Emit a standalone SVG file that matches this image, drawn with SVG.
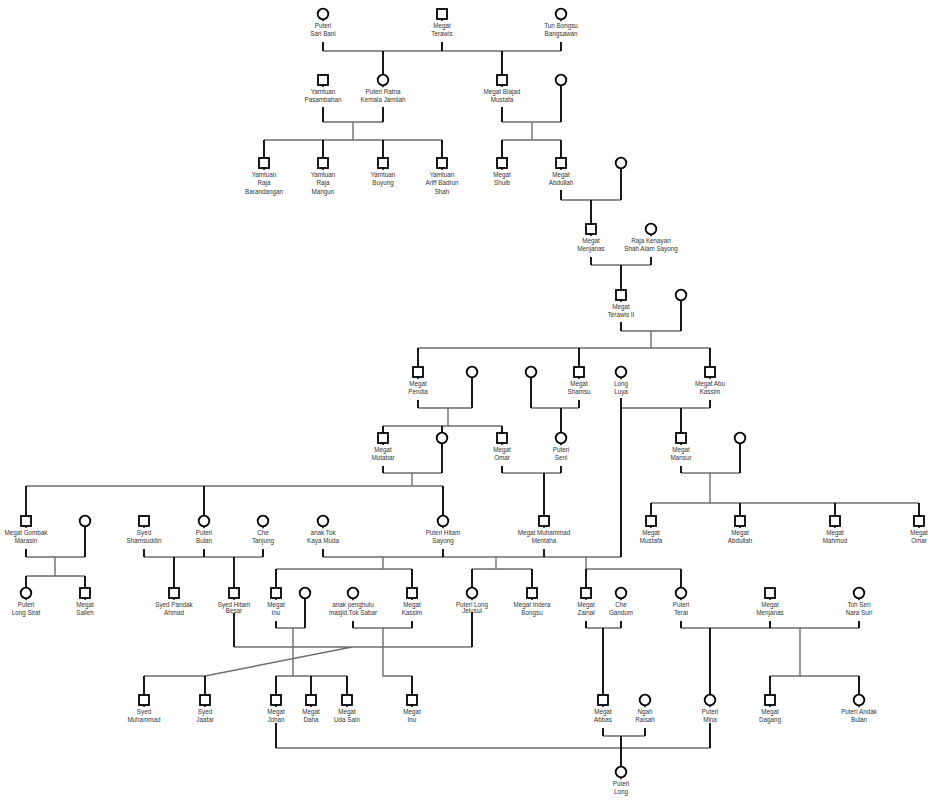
<svg xmlns="http://www.w3.org/2000/svg" width="935" height="800" viewBox="0 0 935 800">
<style>
.node rect,.node circle{fill:#fff;stroke:#000;stroke-width:1.8}
.node path{stroke:#000;stroke-width:1.5;fill:none}
.node text{font-family:"Liberation Sans",Arial,sans-serif;font-size:6.3px;fill:#333;text-anchor:middle}
.b{stroke:#000;stroke-width:1.8;fill:none}
.g{stroke:#6e6e6e;stroke-width:1.4;fill:none}
</style>
<rect width="935" height="800" fill="#fff"/>
<g id="connectors">
<path class="g" d="M323,51H561 M323,122H383 M353,122V140 M264,140H442 M502,122H561 M532,122V140 M502,140H561 M561,200H621 M591,265H651 M621,331H681 M651,331V348 M418,348H710 M418,408H472 M448,408V426 M383,426H502 M531,408H579 M621,408H710 M383,473H442 M412,473V486 M26,486H443 M502,473H561 M681,473H740 M710,473V503 M651,503H919 M26,557H85 M55,557V576 M26,576H85 M144,557H263 M323,557H621 M383,557V569 M276,569H412 M496,557V569 M472,569H532 M586,557V569 M586,569H681 M234,647H472 M352,647L205,676 M144,676H205 M276,628H305 M293,628V676 M276,676H347 M353,628H412 M383,628V676H412 M586,628H621 M681,628H859 M800,628V676 M770,676H859 M276,748H710 M603,736H645"/>
<path class="b" d="M323,42V51 M442,42V51 M561,42V51 M383,51V75 M502,51V75 M323,107V122 M383,107V122 M264,140V158 M323,140V158 M383,140V158 M442,140V158 M502,107V122 M561,86V122 M502,140V158 M561,140V158 M561,190V200 M621,169V200 M591,200V224 M591,257V265 M651,257V265 M621,265V290 M621,322V331 M681,300V331 M418,348V367 M579,348V367 M710,348V367 M418,400V408 M472,378V408 M383,426V433 M442,426V432.5 M502,426V433 M531,378V408 M579,400V408 M561,408V432.5 M621,398V557 M710,400V408 M681,408V433 M383,466V473 M442,444V473 M26,486V516 M204,486V515.5 M443,486V515.5 M502,466V473 M561,466V473 M544,473V516 M681,466V473 M740,444V473 M651,503V516 M740,503V516 M835,503V516 M919,503V516 M26,549V557 M85,527V557 M26,576V587.5 M85,576V588 M144,549V557 M204,549V557 M263,549V557 M174,557V588 M234,557V588 M323,549V557 M443,549V557 M544,549V557 M276,569V588 M412,569V588 M472,569V587.5 M532,569V588 M586,569V588 M681,569V587.5 M234,613V647 M472,612V647 M144,676V695 M205,676V695 M276,621V628 M305,599V628 M276,676V695 M311,676V695 M347,676V695 M353,621V628 M412,621V628 M412,676V695 M586,621V628 M621,621V628 M603,628V695 M681,621V628 M770,621V628 M859,621V628 M710,628V694.5 M770,676V695 M859,676V694.5 M276,723V748 M710,723V748 M603,728V736 M645,728V736 M621,736V766.5"/>
</g>
<g id="puteri-sari-bani" class="node"><circle cx="323" cy="14" r="5.3"/><path d="M323,19.3v2"/><text x="323" y="28">Puteri<tspan x="323" dy="8.4">Sari Bani</tspan></text></g>
<g id="megat-terawis" class="node"><rect x="437" y="9" width="10" height="10"/><path d="M442,19v2"/><text x="442" y="28">Megat<tspan x="442" dy="8.4">Terawis</tspan></text></g>
<g id="tun-bongsu" class="node"><circle cx="561" cy="14" r="5.3"/><path d="M561,19.3v2"/><text x="561" y="28">Tun Bongsu<tspan x="561" dy="8.4">Bangsawan</tspan></text></g>
<g id="yamtuan-pasambahan" class="node"><rect x="318" y="75" width="10" height="10"/><path d="M323,85v2"/><text x="323" y="94">Yamtuan<tspan x="323" dy="8.4">Pasambahan</tspan></text></g>
<g id="puteri-ratna" class="node"><circle cx="383" cy="80" r="5.3"/><path d="M383,85.3v2"/><text x="383" y="94">Puteri Ratna<tspan x="383" dy="8.4">Kemala Jamilah</tspan></text></g>
<g id="megat-biajad" class="node"><rect x="497" y="75" width="10" height="10"/><path d="M502,85v2"/><text x="502" y="94">Megat Biajad<tspan x="502" dy="8.4">Mustafa</tspan></text></g>
<g id="wife-biajad" class="node"><circle cx="561" cy="80" r="5.3"/></g>
<g id="yamtuan-raja-barandangan" class="node"><rect x="259" y="158" width="10" height="10"/><path d="M264,168v2"/><text x="264" y="177">Yamtuan<tspan x="264" dy="8.4">Raja</tspan><tspan x="264" dy="8.4">Barandangan</tspan></text></g>
<g id="yamtuan-raja-mangun" class="node"><rect x="318" y="158" width="10" height="10"/><path d="M323,168v2"/><text x="323" y="177">Yamtuan<tspan x="323" dy="8.4">Raja</tspan><tspan x="323" dy="8.4">Mangun</tspan></text></g>
<g id="yamtuan-buyung" class="node"><rect x="378" y="158" width="10" height="10"/><path d="M383,168v2"/><text x="383" y="177">Yamtuan<tspan x="383" dy="8.4">Buyung</tspan></text></g>
<g id="yamtuan-ariff" class="node"><rect x="437" y="158" width="10" height="10"/><path d="M442,168v2"/><text x="442" y="177">Yamtuan<tspan x="442" dy="8.4">Ariff Badrun</tspan><tspan x="442" dy="8.4">Shah</tspan></text></g>
<g id="megat-shuib" class="node"><rect x="497" y="158" width="10" height="10"/><path d="M502,168v2"/><text x="502" y="177">Megat<tspan x="502" dy="8.4">Shuib</tspan></text></g>
<g id="megat-abdullah-1" class="node"><rect x="556" y="158" width="10" height="10"/><path d="M561,168v2"/><text x="561" y="177">Megat<tspan x="561" dy="8.4">Abdullah</tspan></text></g>
<g id="wife-abdullah" class="node"><circle cx="621" cy="163" r="5.3"/></g>
<g id="megat-menjanas-1" class="node"><rect x="586" y="224" width="10" height="10"/><path d="M591,234v2"/><text x="591" y="243">Megat<tspan x="591" dy="8.4">Menjanas</tspan></text></g>
<g id="raja-kenayan" class="node"><circle cx="651" cy="229" r="5.3"/><path d="M651,234.3v2"/><text x="651" y="243">Raja Kenayan<tspan x="651" dy="8.4">Shah Alam Sayong</tspan></text></g>
<g id="megat-terawis-2" class="node"><rect x="616" y="290" width="10" height="10"/><path d="M621,300v2"/><text x="621" y="309">Megat<tspan x="621" dy="8.4">Terawis II</tspan></text></g>
<g id="wife-terawis-2" class="node"><circle cx="681" cy="295" r="5.3"/></g>
<g id="megat-pendia" class="node"><rect x="413" y="367" width="10" height="10"/><path d="M418,377v2"/><text x="418" y="386">Megat<tspan x="418" dy="8.4">Pendia</tspan></text></g>
<g id="wife-pendia" class="node"><circle cx="472" cy="372" r="5.3"/></g>
<g id="wife-shamsu" class="node"><circle cx="531" cy="372" r="5.3"/></g>
<g id="megat-shamsu" class="node"><rect x="574" y="367" width="10" height="10"/><path d="M579,377v2"/><text x="579" y="386">Megat<tspan x="579" dy="8.4">Shamsu</tspan></text></g>
<g id="long-luya" class="node"><circle cx="621" cy="372" r="5.3"/><path d="M621,377.3v2"/><text x="621" y="386">Long<tspan x="621" dy="8.4">Luya</tspan></text></g>
<g id="megat-abu-kassim" class="node"><rect x="705" y="367" width="10" height="10"/><path d="M710,377v2"/><text x="710" y="386">Megat Abu<tspan x="710" dy="8.4">Kassim</tspan></text></g>
<g id="megat-mutabar" class="node"><rect x="378" y="433" width="10" height="10"/><path d="M383,443v2"/><text x="383" y="452">Megat<tspan x="383" dy="8.4">Mutabar</tspan></text></g>
<g id="wife-mutabar" class="node"><circle cx="442" cy="438" r="5.3"/></g>
<g id="megat-omar-1" class="node"><rect x="497" y="433" width="10" height="10"/><path d="M502,443v2"/><text x="502" y="452">Megat<tspan x="502" dy="8.4">Omar</tspan></text></g>
<g id="puteri-seni" class="node"><circle cx="561" cy="438" r="5.3"/><path d="M561,443.3v2"/><text x="561" y="452">Puteri<tspan x="561" dy="8.4">Seni</tspan></text></g>
<g id="megat-mansur" class="node"><rect x="676" y="433" width="10" height="10"/><path d="M681,443v2"/><text x="681" y="452">Megat<tspan x="681" dy="8.4">Mansur</tspan></text></g>
<g id="wife-mansur" class="node"><circle cx="740" cy="438" r="5.3"/></g>
<g id="megat-gombak" class="node"><rect x="21" y="516" width="10" height="10"/><path d="M26,526v2"/><text x="26" y="535">Megat Gombak<tspan x="26" dy="8.4">Marasin</tspan></text></g>
<g id="wife-gombak" class="node"><circle cx="85" cy="521" r="5.3"/></g>
<g id="syed-shamsuddin" class="node"><rect x="139" y="516" width="10" height="10"/><path d="M144,526v2"/><text x="144" y="535">Syed<tspan x="144" dy="8.4">Shamsuddin</tspan></text></g>
<g id="puteri-bulan" class="node"><circle cx="204" cy="521" r="5.3"/><path d="M204,526.3v2"/><text x="204" y="535">Puteri<tspan x="204" dy="8.4">Bulan</tspan></text></g>
<g id="che-tanjung" class="node"><circle cx="263" cy="521" r="5.3"/><path d="M263,526.3v2"/><text x="263" y="535">Che<tspan x="263" dy="8.4">Tanjung</tspan></text></g>
<g id="anak-tok-kaya-muda" class="node"><circle cx="323" cy="521" r="5.3"/><path d="M323,526.3v2"/><text x="323" y="535">anak Tok<tspan x="323" dy="8.4">Kaya Muda</tspan></text></g>
<g id="puteri-hitam-sayong" class="node"><circle cx="443" cy="521" r="5.3"/><path d="M443,526.3v2"/><text x="443" y="535">Puteri Hitam<tspan x="443" dy="8.4">Sayong</tspan></text></g>
<g id="megat-muhammad-mentaha" class="node"><rect x="539" y="516" width="10" height="10"/><path d="M544,526v2"/><text x="544" y="535">Megat Muhammad<tspan x="544" dy="8.4">Mentaha</tspan></text></g>
<g id="megat-mustafa" class="node"><rect x="646" y="516" width="10" height="10"/><path d="M651,526v2"/><text x="651" y="535">Megat<tspan x="651" dy="8.4">Mustafa</tspan></text></g>
<g id="megat-abdullah-2" class="node"><rect x="735" y="516" width="10" height="10"/><path d="M740,526v2"/><text x="740" y="535">Megat<tspan x="740" dy="8.4">Abdullah</tspan></text></g>
<g id="megat-mahmud" class="node"><rect x="830" y="516" width="10" height="10"/><path d="M835,526v2"/><text x="835" y="535">Megat<tspan x="835" dy="8.4">Mahmud</tspan></text></g>
<g id="megat-omar-2" class="node"><rect x="914" y="516" width="10" height="10"/><path d="M919,526v2"/><text x="919" y="535">Megat<tspan x="919" dy="8.4">Omar</tspan></text></g>
<g id="puteri-long-sirat" class="node"><circle cx="26" cy="593" r="5.3"/><path d="M26,598.3v2"/><text x="26" y="607">Puteri<tspan x="26" dy="8.4">Long Sirat</tspan></text></g>
<g id="megat-salleh" class="node"><rect x="80" y="588" width="10" height="10"/><path d="M85,598v2"/><text x="85" y="607">Megat<tspan x="85" dy="8.4">Salleh</tspan></text></g>
<g id="syed-pandak-ahmad" class="node"><rect x="169" y="588" width="10" height="10"/><path d="M174,598v2"/><text x="174" y="607">Syed Pandak<tspan x="174" dy="8.4">Ahmad</tspan></text></g>
<g id="syed-hitam-besar" class="node"><rect x="229" y="588" width="10" height="10"/><path d="M234,598v2"/><text x="234" y="607">Syed Hitam<tspan x="234" dy="6.4">Besar</tspan></text></g>
<g id="megat-inu-1" class="node"><rect x="271" y="588" width="10" height="10"/><path d="M276,598v2"/><text x="276" y="607">Megat<tspan x="276" dy="8.4">Inu</tspan></text></g>
<g id="wife-inu" class="node"><circle cx="305" cy="593" r="5.3"/></g>
<g id="anak-penghulu" class="node"><circle cx="353" cy="593" r="5.3"/><path d="M353,598.3v2"/><text x="353" y="607">anak penghulu<tspan x="353" dy="8.4">masjid Tok Sabar</tspan></text></g>
<g id="megat-kassim" class="node"><rect x="407" y="588" width="10" height="10"/><path d="M412,598v2"/><text x="412" y="607">Megat<tspan x="412" dy="8.4">Kassim</tspan></text></g>
<g id="puteri-long-jelusul" class="node"><circle cx="472" cy="593" r="5.3"/><path d="M472,598.3v2"/><text x="472" y="607">Puteri Long<tspan x="472" dy="6.4">Jelusul</tspan></text></g>
<g id="megat-indera-bongsu" class="node"><rect x="527" y="588" width="10" height="10"/><path d="M532,598v2"/><text x="532" y="607">Megat Indera<tspan x="532" dy="8.4">Bongsu</tspan></text></g>
<g id="megat-zainal" class="node"><rect x="581" y="588" width="10" height="10"/><path d="M586,598v2"/><text x="586" y="607">Megat<tspan x="586" dy="8.4">Zainal</tspan></text></g>
<g id="che-gandum" class="node"><circle cx="621" cy="593" r="5.3"/><path d="M621,598.3v2"/><text x="621" y="607">Che<tspan x="621" dy="8.4">Gandum</tspan></text></g>
<g id="puteri-terai" class="node"><circle cx="681" cy="593" r="5.3"/><path d="M681,598.3v2"/><text x="681" y="607">Puteri<tspan x="681" dy="8.4">Terai</tspan></text></g>
<g id="megat-menjanas-2" class="node"><rect x="765" y="588" width="10" height="10"/><path d="M770,598v2"/><text x="770" y="607">Megat<tspan x="770" dy="8.4">Menjanas</tspan></text></g>
<g id="toh-seri-nara-suri" class="node"><circle cx="859" cy="593" r="5.3"/><path d="M859,598.3v2"/><text x="859" y="607">Toh Seri<tspan x="859" dy="8.4">Nara Suri</tspan></text></g>
<g id="syed-muhammad" class="node"><rect x="139" y="695" width="10" height="10"/><path d="M144,705v2"/><text x="144" y="714">Syed<tspan x="144" dy="8.4">Muhammad</tspan></text></g>
<g id="syed-jaafar" class="node"><rect x="200" y="695" width="10" height="10"/><path d="M205,705v2"/><text x="205" y="714">Syed<tspan x="205" dy="8.4">Jaafar</tspan></text></g>
<g id="megat-johan" class="node"><rect x="271" y="695" width="10" height="10"/><path d="M276,705v2"/><text x="276" y="714">Megat<tspan x="276" dy="8.4">Johan</tspan></text></g>
<g id="megat-daha" class="node"><rect x="306" y="695" width="10" height="10"/><path d="M311,705v2"/><text x="311" y="714">Megat<tspan x="311" dy="8.4">Daha</tspan></text></g>
<g id="megat-uda-sain" class="node"><rect x="342" y="695" width="10" height="10"/><path d="M347,705v2"/><text x="347" y="714">Megat<tspan x="347" dy="8.4">Uda Sain</tspan></text></g>
<g id="megat-inu-2" class="node"><rect x="407" y="695" width="10" height="10"/><path d="M412,705v2"/><text x="412" y="714">Megat<tspan x="412" dy="8.4">Inu</tspan></text></g>
<g id="megat-abbas" class="node"><rect x="598" y="695" width="10" height="10"/><path d="M603,705v2"/><text x="603" y="714">Megat<tspan x="603" dy="8.4">Abbas</tspan></text></g>
<g id="ngah-raisah" class="node"><circle cx="645" cy="700" r="5.3"/><path d="M645,705.3v2"/><text x="645" y="714">Ngah<tspan x="645" dy="8.4">Raisah</tspan></text></g>
<g id="puteri-mina" class="node"><circle cx="710" cy="700" r="5.3"/><path d="M710,705.3v2"/><text x="710" y="714">Puteri<tspan x="710" dy="8.4">Mina</tspan></text></g>
<g id="megat-dagang" class="node"><rect x="765" y="695" width="10" height="10"/><path d="M770,705v2"/><text x="770" y="714">Megat<tspan x="770" dy="8.4">Dagang</tspan></text></g>
<g id="puteri-andak-bulan" class="node"><circle cx="859" cy="700" r="5.3"/><path d="M859,705.3v2"/><text x="859" y="714">Puteri Andak<tspan x="859" dy="8.4">Bulan</tspan></text></g>
<g id="puteri-long" class="node"><circle cx="621" cy="772" r="5.3"/><path d="M621,777.3v2"/><text x="621" y="786">Puteri<tspan x="621" dy="8.4">Long</tspan></text></g>
</svg>
